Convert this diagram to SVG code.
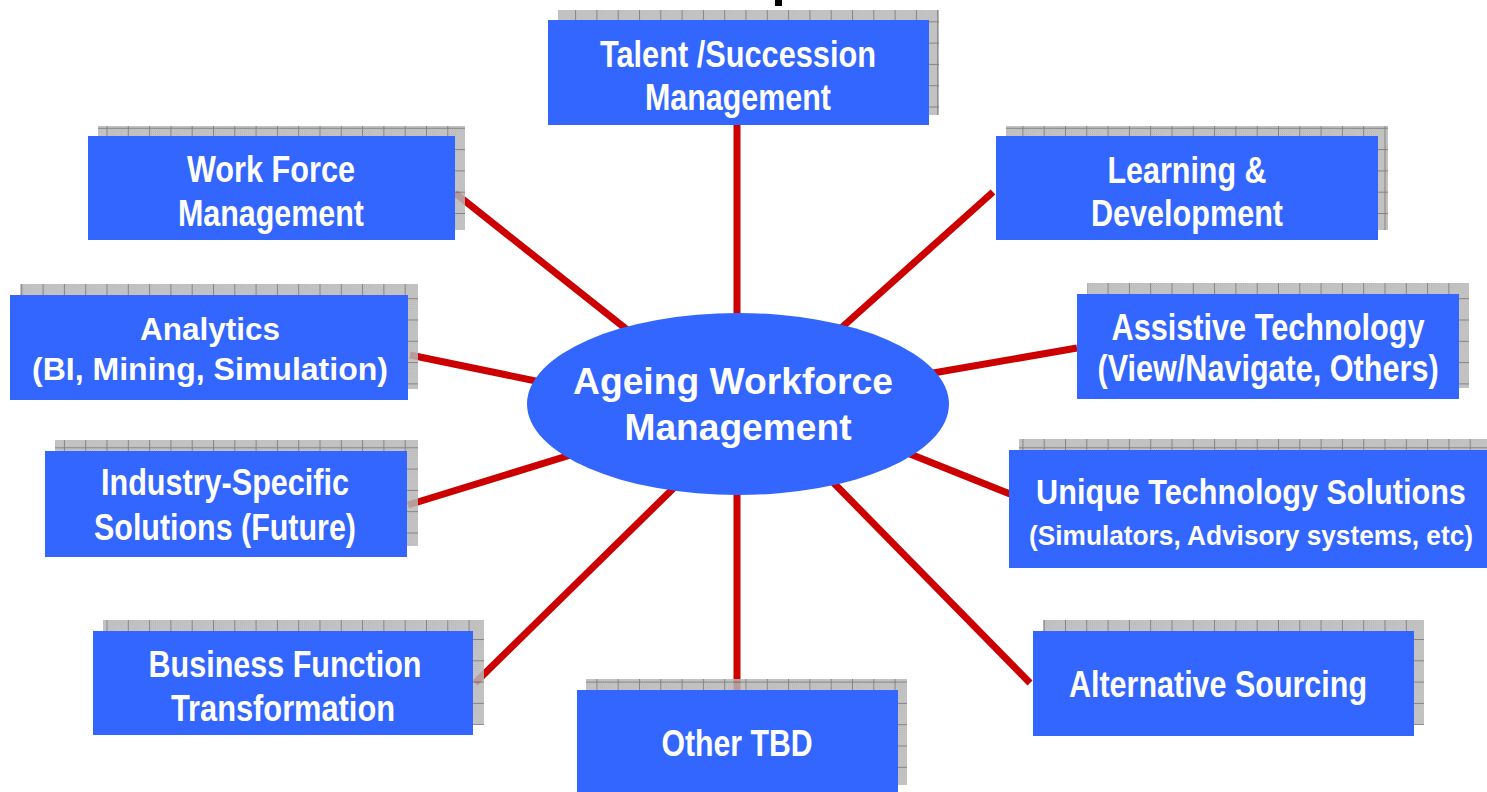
<svg xmlns="http://www.w3.org/2000/svg" width="1487" height="792" viewBox="0 0 1487 792">
  <defs>
    <!-- fine dotted texture used inside the drop shadows -->
    <pattern id="dots" patternUnits="userSpaceOnUse" width="2" height="2">
      <rect width="2" height="2" fill="#e0e0e0"/>
      <rect width="1" height="1" fill="#8c8c8c"/>
      <rect x="1" y="1" width="1" height="1" fill="#8c8c8c"/>
    </pattern>
    <!-- dotted texture plus a light grid -->
    <pattern id="shadowGrid" patternUnits="userSpaceOnUse" width="21.3" height="21.3">
      <rect width="21.3" height="21.3" fill="url(#dots)"/>
      <rect width="1" height="21.3" fill="#6e6e6e"/>
      <rect width="21.3" height="1" fill="#6e6e6e"/>
    </pattern>
    <style>
      .shadow { fill: url(#shadowGrid); opacity: 0.85; }
      .box { fill: #3366FF; }
      .link { stroke: #CC0000; stroke-width: 7; fill: none; }
      .lbl { font-family: "Liberation Sans", Arial, sans-serif; font-weight: bold; fill: #ffffff; text-anchor: middle; font-size: 37px; }
    </style>
  </defs>

  <rect width="1487" height="792" fill="#ffffff"/>

  <!-- clipped fragment of the heading above the chart -->
  <rect x="775" y="0" width="7" height="6" fill="#000000"/>

  <!-- spokes from the hub to each topic -->
  <g id="connectors">
    <line class="link" x1="737" y1="125" x2="737" y2="330"/>
    <line class="link" x1="455" y1="193" x2="640" y2="340"/>
    <line class="link" x1="993" y1="192" x2="830" y2="338"/>
    <line class="link" x1="410" y1="355" x2="560" y2="386"/>
    <line class="link" x1="1077" y1="348" x2="910" y2="377"/>
    <line class="link" x1="408" y1="505" x2="590" y2="449"/>
    <line class="link" x1="1010" y1="494" x2="890" y2="446"/>
    <line class="link" x1="475" y1="683" x2="690" y2="472"/>
    <line class="link" x1="737" y1="690" x2="737" y2="480"/>
    <line class="link" x1="1030" y1="683" x2="820" y2="469"/>
  </g>

  <!-- drop shadows behind the topic boxes -->
  <g id="shadows">
    <rect class="shadow" x="558" y="10" width="381" height="105"/>
    <rect class="shadow" x="98" y="126" width="367" height="104"/>
    <rect class="shadow" x="1006" y="126" width="382" height="104"/>
    <rect class="shadow" x="20" y="284" width="398" height="105"/>
    <rect class="shadow" x="1087" y="283" width="382" height="105"/>
    <rect class="shadow" x="55" y="440" width="363" height="106"/>
    <rect class="shadow" x="1019" y="439" width="480" height="118"/>
    <rect class="shadow" x="103" y="620" width="381" height="105"/>
    <rect class="shadow" x="586" y="679" width="321" height="106"/>
    <rect class="shadow" x="1043" y="620" width="381" height="105"/>
  </g>

  <g id="talent-succession">
    <rect class="box" x="548" y="20" width="381" height="105"/>
    <text class="lbl" x="738" y="67" textLength="276" lengthAdjust="spacingAndGlyphs">Talent /Succession</text>
    <text class="lbl" x="738" y="110" textLength="186" lengthAdjust="spacingAndGlyphs">Management</text>
  </g>

  <g id="work-force">
    <rect class="box" x="88" y="136" width="367" height="104"/>
    <text class="lbl" x="271" y="182" textLength="168" lengthAdjust="spacingAndGlyphs">Work Force</text>
    <text class="lbl" x="271" y="226" textLength="186" lengthAdjust="spacingAndGlyphs">Management</text>
  </g>

  <g id="learning">
    <rect class="box" x="996" y="136" width="382" height="104"/>
    <text class="lbl" x="1187" y="183" textLength="159" lengthAdjust="spacingAndGlyphs">Learning &amp;</text>
    <text class="lbl" x="1187" y="226" textLength="192" lengthAdjust="spacingAndGlyphs">Development</text>
  </g>

  <g id="analytics">
    <rect class="box" x="10" y="295" width="398" height="105"/>
    <text class="lbl" x="210" y="340" textLength="140" lengthAdjust="spacingAndGlyphs" style="font-size:31px">Analytics</text>
    <text class="lbl" x="210" y="380" textLength="356" lengthAdjust="spacingAndGlyphs" style="font-size:31px">(BI, Mining, Simulation)</text>
  </g>

  <g id="assistive-technology">
    <rect class="box" x="1077" y="294" width="382" height="105"/>
    <text class="lbl" x="1268" y="340" textLength="313" lengthAdjust="spacingAndGlyphs">Assistive Technology</text>
    <text class="lbl" x="0" y="381" transform="translate(1268,0) scale(0.826,1)" textLength="413" lengthAdjust="spacingAndGlyphs">(View/Navigate, Others)</text>
  </g>

  <g id="industry-specific">
    <rect class="box" x="45" y="451" width="362" height="106"/>
    <text class="lbl" x="225" y="495" textLength="248" lengthAdjust="spacingAndGlyphs">Industry-Specific</text>
    <text class="lbl" x="225" y="540" textLength="262" lengthAdjust="spacingAndGlyphs">Solutions (Future)</text>
  </g>

  <g id="unique-technology">
    <rect class="box" x="1009" y="450" width="480" height="118"/>
    <text class="lbl" x="0" y="504" transform="translate(1251,0) scale(0.87,1)" textLength="494" lengthAdjust="spacingAndGlyphs" style="font-size:35px">Unique Technology Solutions</text>
    <text class="lbl" x="1251" y="545" textLength="444" lengthAdjust="spacingAndGlyphs" style="font-size:27px">(Simulators, Advisory systems, etc)</text>
  </g>

  <g id="business-function">
    <rect class="box" x="93" y="631" width="380" height="104"/>
    <text class="lbl" x="285" y="677" textLength="273" lengthAdjust="spacingAndGlyphs">Business Function</text>
    <text class="lbl" x="283" y="721" textLength="224" lengthAdjust="spacingAndGlyphs">Transformation</text>
  </g>

  <g id="other-tbd">
    <rect class="box" x="577" y="690" width="321" height="106"/>
    <text class="lbl" x="737" y="756" textLength="151" lengthAdjust="spacingAndGlyphs">Other TBD</text>
  </g>

  <g id="alternative-sourcing">
    <rect class="box" x="1033" y="631" width="381" height="105"/>
    <text class="lbl" x="1218" y="697" textLength="298" lengthAdjust="spacingAndGlyphs">Alternative Sourcing</text>
  </g>

  <g id="ageing-workforce">
    <ellipse cx="738" cy="404" rx="211" ry="91" fill="#3366FF"/>
    <text class="lbl" x="733" y="394" textLength="320" lengthAdjust="spacingAndGlyphs">Ageing Workforce</text>
    <text class="lbl" x="738" y="440" textLength="227" lengthAdjust="spacingAndGlyphs">Management</text>
  </g>
</svg>
